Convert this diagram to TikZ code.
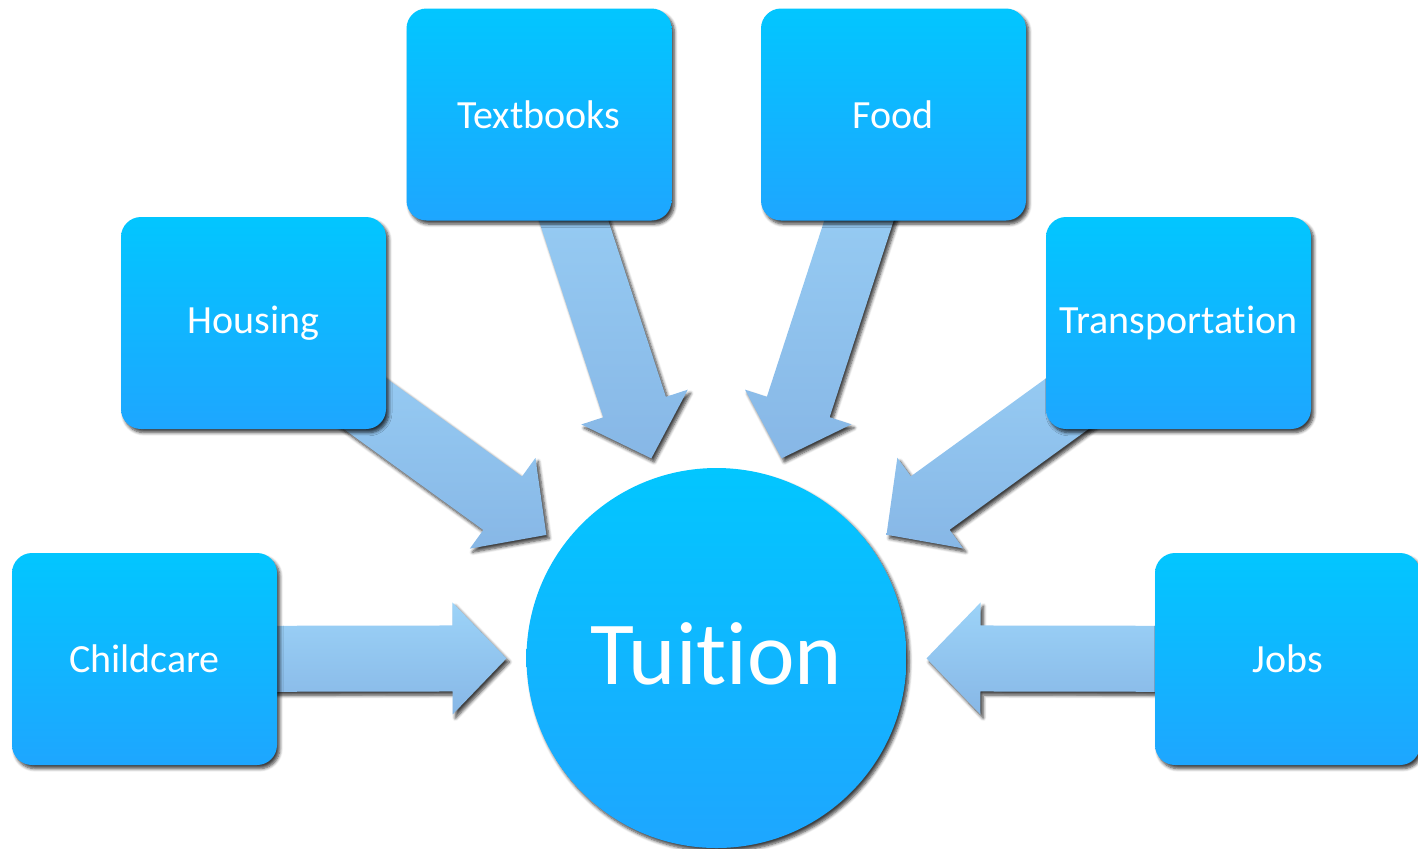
\documentclass[tikz,border=0pt]{standalone}
\usepackage{fontspec}
\setmainfont{Carlito}[Ligatures=NoCommon]
\usetikzlibrary{calc,shadows.blur}
\pgfdeclarelayer{background}
\pgfsetlayers{background,main}
\definecolor{boxtop}{RGB}{2,198,255}
\definecolor{boxbot}{RGB}{30,166,255}
\definecolor{arrtop}{RGB}{156,211,248}
\definecolor{arrbot}{RGB}{135,183,230}
\tikzset{
  softshadow/.style={blur shadow={shadow xshift=1.4pt, shadow yshift=-1.8pt, shadow blur radius=1.6pt, shadow blur steps=6, shadow opacity=75}},
  box/.style={rectangle, rounded corners=10pt, minimum width=132.5pt, minimum height=106pt,
    inner sep=0pt, top color=boxtop, bottom color=boxbot, draw=none, text=white,
    font=\fontsize{20}{24}\selectfont, softshadow},
  hub/.style={circle, minimum size=190pt, inner sep=0pt, top color=boxtop, bottom color=boxbot,
    draw=none, text=white, font=\fontsize{45}{52}\selectfont, softshadow},
  blockarrow/.style={top color=arrtop, bottom color=arrbot, draw=none, softshadow}
}
\newcommand\flowarrow[2]{%
  \coordinate (h#1) at ($(#2.center)!132pt!(#1.center)$);
  \coordinate (t#1) at ($(#2.center)!105pt!(#1.center)$);
  \path[blockarrow]
    ($(#1.center)!16.5pt!-90:(#2.center)$) --
    ($(h#1)!16.5pt!90:(#1.center)$) --
    ($(h#1)!28pt!90:(#1.center)$) --
    (t#1) --
    ($(h#1)!28pt!-90:(#1.center)$) --
    ($(h#1)!16.5pt!-90:(#1.center)$) --
    ($(#1.center)!16.5pt!90:(#2.center)$) -- cycle;
}
\begin{document}
\begin{tikzpicture}[x=0.5pt,y=-0.5pt]
\useasboundingbox (0,0) rectangle (1418,848);
\node[box] (child) at (144.5,659) {Childcare};
\node[box] (hous) at (253.5,323) {Housing};
\node[box] (text) at (539,114.5) {Textbooks};
\node[box] (food) at (893.5,114.5) {Food};
\node[box] (trans) at (1178.5,323) {Transportation};
\node[box] (jobs) at (1287.5,659) {Jobs};
\node[hub] (tu) at (716.5,658) {};
\node[text=white, font=\fontsize{45}{52}\selectfont, inner sep=0pt] (tulabel) at (716.5,654) {Tuition};
\begin{pgfonlayer}{background}
\flowarrow{child}{tu}
\flowarrow{hous}{tu}
\flowarrow{text}{tu}
\flowarrow{food}{tu}
\flowarrow{trans}{tu}
\flowarrow{jobs}{tu}
\end{pgfonlayer}
\end{tikzpicture}
\end{document}
